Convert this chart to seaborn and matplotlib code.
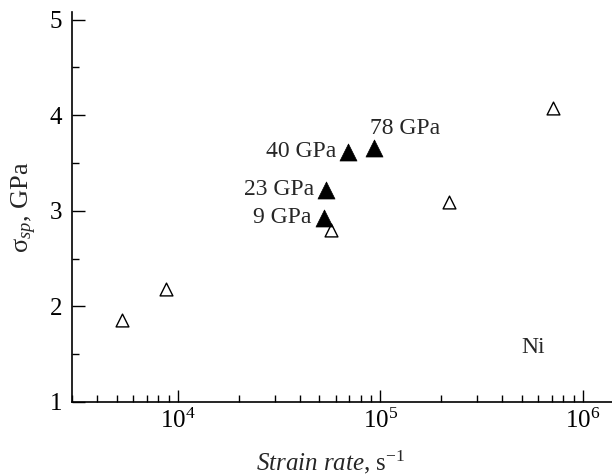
import matplotlib
matplotlib.use("Agg")
import matplotlib.pyplot as plt
import seaborn as sns
import pandas as pd
from matplotlib.ticker import LogLocator, MultipleLocator

# Spall strength of Ni versus strain rate
open_rate = [5300, 8700, 57000, 217000, 714000]
open_sigma = [1.86, 2.18, 2.80, 3.09, 4.08]

filled_rate = [52400, 54000, 69500, 93000]
filled_sigma = [2.93, 3.22, 3.62, 3.66]
filled_labels = ["9 GPa", "23 GPa", "40 GPa", "78 GPa"]

sns.set_theme(style="ticks")
plt.rcParams["font.family"] = ["Liberation Serif", "DejaVu Serif"]
plt.rcParams["mathtext.fontset"] = "custom"
plt.rcParams["mathtext.rm"] = "Liberation Serif"
plt.rcParams["mathtext.it"] = "Liberation Serif:italic"

fig = plt.figure(figsize=(6.12, 4.75), dpi=100)
ax = fig.add_axes([0.1176, 0.1537, 0.8824, 0.821])

df_open = pd.DataFrame({"rate": open_rate, "sigma": open_sigma})
df_filled = pd.DataFrame({"rate": filled_rate, "sigma": filled_sigma, "label": filled_labels})

sns.scatterplot(data=df_open, x="rate", y="sigma", marker="^", s=85,
                facecolor="white", edgecolor="black", linewidth=1.0, ax=ax, zorder=3)
sns.scatterplot(data=df_filled, x="rate", y="sigma", marker="^", s=150,
                color="black", edgecolor="black", linewidth=0.5, ax=ax, zorder=4)

ax.set_xscale("log")
ax.set_xlim(3000, 1.39e6)
ax.set_ylim(1, 5.08)

# point annotations
offsets = {"9 GPa": (-9, 0, "right"), "23 GPa": (-9, 0, "right"),
           "40 GPa": (-9, 0, "right"), "78 GPa": (-3, 14, "left")}
for r, s, lab in zip(filled_rate, filled_sigma, filled_labels):
    dx, dy, ha = offsets[lab]
    ax.annotate(lab, (r, s), xytext=(dx, dy), textcoords="offset points",
                ha=ha, va="center", fontsize=17)

ax.text(4.95e5, 1.57, "Ni", fontsize=17, ha="left", va="center")

ax.set_yticks([1, 2, 3, 4, 5])
ax.yaxis.set_minor_locator(MultipleLocator(0.5))
ax.xaxis.set_major_locator(LogLocator(base=10, numticks=10))
ax.xaxis.set_minor_locator(LogLocator(base=10, subs=range(2, 10), numticks=20))

ax.tick_params(which="major", direction="in", length=9, width=1.0, labelsize=18,
               color="black", labelcolor="black")
ax.tick_params(axis="y", which="major", pad=7)
ax.tick_params(axis="x", which="major", pad=5)
ax.tick_params(which="minor", direction="in", length=5, width=1.0, color="black")

sns.despine(ax=ax)
for sp in ["left", "bottom"]:
    ax.spines[sp].set_linewidth(1.2)
    ax.spines[sp].set_color("black")

ax.set_xlabel(r"$\it{Strain\ rate}$, s$^{-1}$", fontsize=18, labelpad=0)
ax.xaxis.set_label_coords(0.48, -0.12)
ax.set_ylabel(r"σ$_{\it{sp}}$, GPa", fontsize=19, labelpad=8)

fig.savefig("out.png", dpi=100)
